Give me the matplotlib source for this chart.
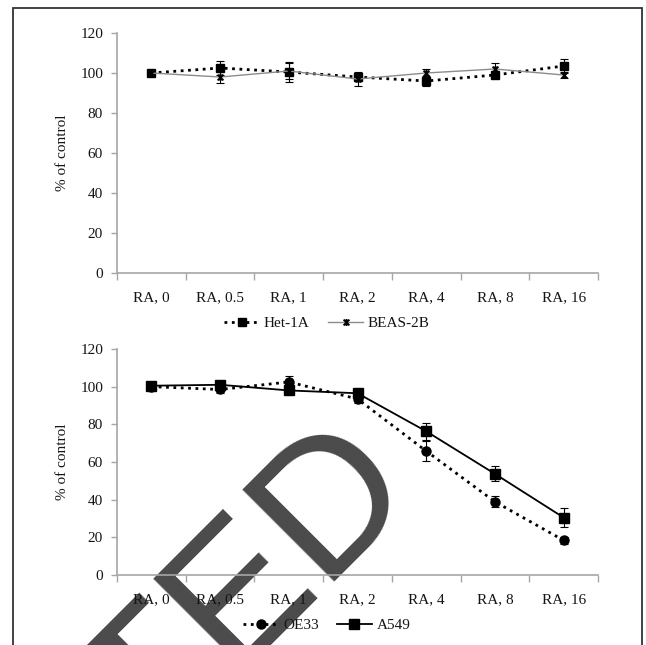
import matplotlib.pyplot as plt
from matplotlib.path import Path
from matplotlib.patches import Rectangle

# data
labels = ['RA, 0', 'RA, 0.5', 'RA, 1', 'RA, 2', 'RA, 4', 'RA, 8', 'RA, 16']

het1a = [100, 102.5, 100.5, 98, 96, 99, 103.5]
het1a_err = [1, 3.5, 5, 2, 2.5, 1.5, 3.5]
beas2b = [100, 98, 101, 97, 100, 102, 99]
beas2b_err = [1, 3, 4, 3.5, 2, 3, 1.5]

oe33 = [100, 98.5, 102.5, 93.5, 65.8, 38.9, 18.4]
oe33_err = [1, 2, 3, 2, 5.5, 3, 2]
a549 = [100.5, 101, 98, 96.5, 76.3, 53.7, 30.5]
a549_err = [1, 2, 2, 2, 4.5, 4, 5]

plt.rcParams['font.family'] = ['Liberation Serif', 'DejaVu Serif']
plt.rcParams['font.size'] = 11
txt = '#151515'
axcol = '#a6a6a6'

fig = plt.figure(figsize=(6.46, 6.45), dpi=100)

# excel style "star" marker
star = Path([(-1, -1), (1, 1), (-1, 1), (1, -1), (0, -1.2), (0, 1.2)],
            [Path.MOVETO, Path.LINETO, Path.MOVETO, Path.LINETO, Path.MOVETO, Path.LINETO])

# watermark behind everything
fig.text(0.645, 0.249, 'RETRACTED', family='Liberation Sans', fontsize=136,
         color='#4a4a4a', rotation=45, rotation_mode='anchor',
         ha='right', va='baseline', zorder=-5)

# frame round the figure (bottom edge is cut off)
fig.patches.append(Rectangle((13.5 / 646, -0.1), (641.5 - 13.5) / 646, 1.1 - 7.5 / 645,
                             transform=fig.transFigure, fill=False,
                             edgecolor='#333333', linewidth=1.3))

ax1 = fig.add_axes([117 / 646, 1 - 273 / 645, 481 / 646, 240 / 645])
ax2 = fig.add_axes([117 / 646, 1 - 575 / 645, 481 / 646, 226 / 645])

x = list(range(len(labels)))


def style(ax):
    ax.patch.set_visible(False)
    ax.set_xlim(-0.5, len(labels) - 0.5)
    ax.set_ylim(0, 120)
    ax.set_yticks(range(0, 121, 20))
    ax.set_xticks([i - 0.5 for i in range(len(labels) + 1)])
    ax.set_xticklabels([])
    ax.set_xticks(x, minor=True)
    ax.set_xticklabels(labels, minor=True, color=txt)
    ax.tick_params(axis='x', which='minor', length=0, pad=13)
    ax.tick_params(axis='x', which='major', length=5, width=1, color=axcol, direction='out')
    ax.tick_params(axis='y', length=4, width=1, color=axcol, pad=6, labelcolor=txt)
    for s in ['top', 'right']:
        ax.spines[s].set_visible(False)
    for s in ['left', 'bottom']:
        ax.spines[s].set_color(axcol)
        ax.spines[s].set_linewidth(1.2)
    ax.set_ylabel('% of control', color=txt, labelpad=8)


# top panel
ax1.errorbar(x, het1a, yerr=het1a_err, fmt='none', ecolor='black', elinewidth=0.8,
             capsize=3, capthick=0.8)
ax1.errorbar(x, beas2b, yerr=beas2b_err, fmt='none', ecolor='black', elinewidth=0.8,
             capsize=3, capthick=0.8)
l1, = ax1.plot(x, het1a, linestyle=':', color='black', linewidth=2, marker='s',
               markersize=5.5, label='Het-1A')
l2, = ax1.plot(x, beas2b, linestyle='-', color='#8c8c8c', linewidth=1, marker=star,
               markersize=5, markeredgecolor='black', markeredgewidth=1.4, label='BEAS-2B')
style(ax1)
fig.legend(handles=[l1, l2], loc='center', bbox_to_anchor=(0.506, 1 - 323 / 645), ncol=2,
           frameon=False, handlelength=2.3, handletextpad=0.3, columnspacing=1.2,
           labelcolor=txt)

# bottom panel
ax2.errorbar(x, oe33, yerr=oe33_err, fmt='none', ecolor='black', elinewidth=0.8,
             capsize=3, capthick=0.8)
ax2.errorbar(x, a549, yerr=a549_err, fmt='none', ecolor='black', elinewidth=0.8,
             capsize=3, capthick=0.8)
l3, = ax2.plot(x, oe33, linestyle=':', color='black', linewidth=2, marker='o',
               markersize=6.5, label='OE33')
l4, = ax2.plot(x, a549, linestyle='-', color='black', linewidth=1.3, marker='s',
               markersize=7, label='A549')
style(ax2)
fig.legend(handles=[l3, l4], loc='center', bbox_to_anchor=(0.506, 1 - 625 / 645), ncol=2,
           frameon=False, handlelength=2.3, handletextpad=0.3, columnspacing=1.2,
           labelcolor=txt)

plt.savefig('out.png', dpi=100)
